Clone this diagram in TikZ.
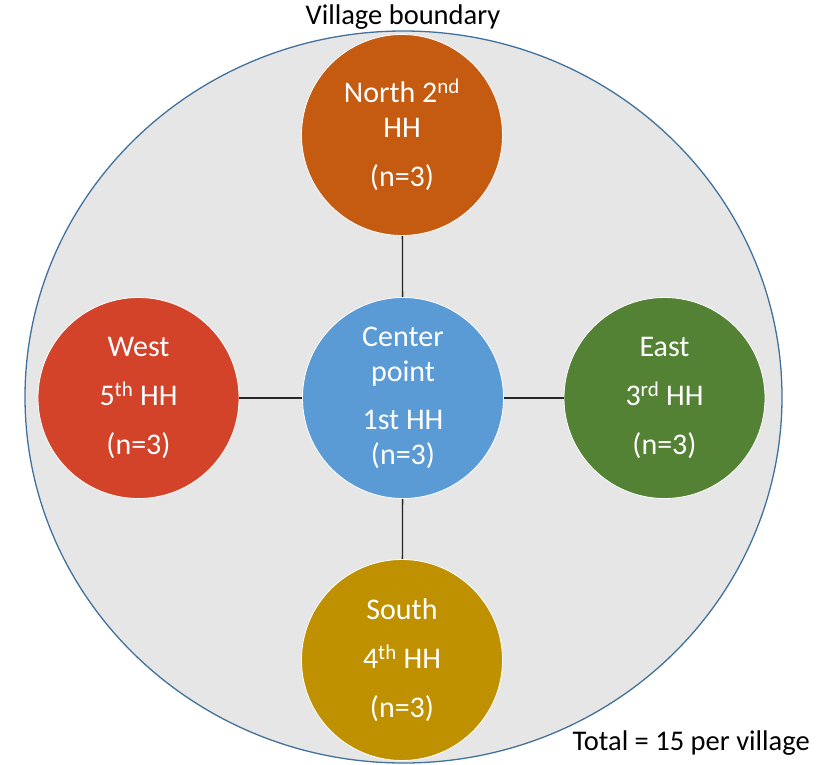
\documentclass[tikz,border=0pt]{standalone}
\usepackage{fontspec}
\setmainfont{Carlito}
\usetikzlibrary{positioning}
\definecolor{villagefill}{HTML}{E6E6E6}
\definecolor{villageline}{HTML}{41719C}
\definecolor{northc}{HTML}{C55A11}
\definecolor{westc}{HTML}{D2432A}
\definecolor{centerc}{HTML}{5B9BD5}
\definecolor{eastc}{HTML}{548235}
\definecolor{southc}{HTML}{BF9000}
\begin{document}
\begin{tikzpicture}[x=1pt,y=-1pt,
    hh/.style={circle,draw=white,line width=0.8pt,minimum size=201pt,inner sep=0pt,
      text=white,align=center,font=\fontsize{30}{35}\selectfont},
    link/.style={line width=1.3pt,draw=black!85},
    label/.style={font=\fontsize{28.5}{34}\selectfont,text=black,inner sep=0pt}]
    \useasboundingbox (0,0) rectangle (825,764);
    \filldraw[fill=villagefill,draw=villageline,line width=1.3pt] (403.5,397) ellipse [x radius=378.5pt,y radius=366pt];
    % households
    \node[hh,fill=centerc] (center) at (403,398) {Center\\point\\[13pt]1st HH\\(n=3)};
    \node[hh,fill=northc] (north) at (402,135) {North 2\textsuperscript{nd}\\HH\\[14pt](n=3)};
    \node[hh,fill=westc] (west) at (138.5,398) {West\\[14pt]5\textsuperscript{th} HH\\[14pt](n=3)};
    \node[hh,fill=eastc] (east) at (664.5,398) {East\\[14pt]3\textsuperscript{rd} HH\\[14pt](n=3)};
    \node[hh,fill=southc] (south) at (402,660) {South\\[14pt]4\textsuperscript{th} HH\\[14pt](n=3)};
    \draw[link] (north) -- (center);
    \draw[link] (south) -- (center);
    \draw[link] (west) -- (center);
    \draw[link] (east) -- (center);
    % labels
    \node[label] (boundary) at (403,17) {Village boundary};
    \node[label,anchor=east] (total) at (810,743) {Total = 15 per village};
\end{tikzpicture}
\end{document}
